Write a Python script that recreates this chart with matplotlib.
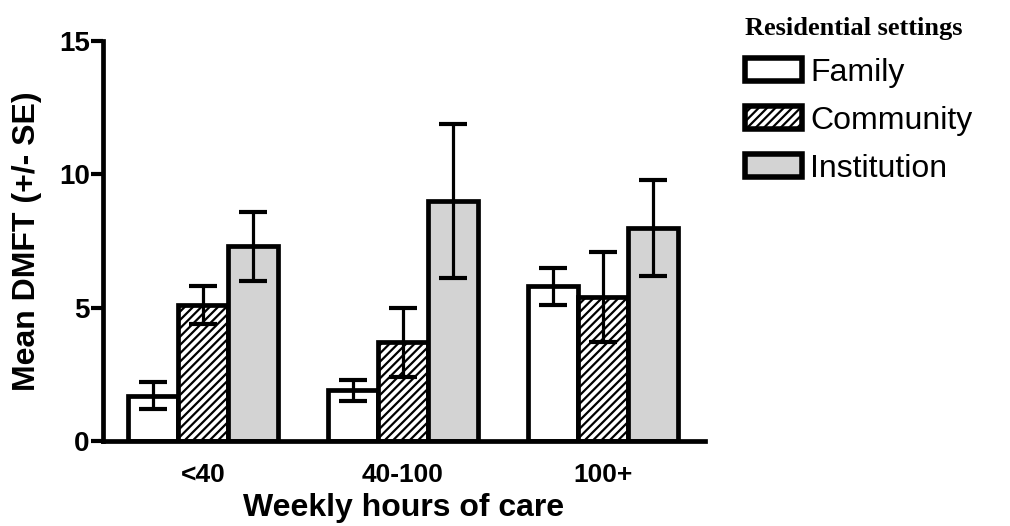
import matplotlib
matplotlib.use("Agg")
import matplotlib.pyplot as plt
import numpy as np

categories = ["<40", "40-100", "100+"]
series = ["Family", "Community", "Institution"]
family = [1.7, 1.9, 5.8]
community = [5.1, 3.7, 5.4]
institution = [7.3, 9.0, 8.0]
family_se = [0.5, 0.4, 0.7]
community_se = [0.7, 1.3, 1.7]
institution_se = [1.3, 2.9, 1.8]

plt.rcParams['font.family'] = ['Liberation Sans', 'DejaVu Sans']
plt.rcParams['hatch.linewidth'] = 1.6

fig = plt.figure(figsize=(10.10, 5.26), dpi=100)
ax = fig.add_axes([0.102, 0.1616, 0.596, 0.7605])

values = [family, community, institution]
errs = [family_se, community_se, institution_se]
fills = ["white", "white", "#d3d3d3"]
hatches = [None, "////", None]
x = np.arange(len(categories))
w = 0.25
for i, (v, e) in enumerate(zip(values, errs)):
    pos = x + (i - 1) * w
    ax.bar(pos, v, width=w, color=fills[i], edgecolor="black", linewidth=3.4,
           hatch=hatches[i], label=series[i], zorder=2)
    ax.errorbar(pos, v, yerr=e, fmt="none", ecolor="black", elinewidth=2.3,
                capsize=10, capthick=3.0, zorder=3)

ax.set_xlim(-0.5, 2.51)
ax.set_ylim(0, 15)
ax.set_yticks([0, 5, 10, 15])
ax.set_xticks(x)
ax.set_xticklabels(categories, fontsize=19, fontweight="bold")
ax.tick_params(axis="y", labelsize=20, width=3, length=9, direction="out", pad=0.5)
for lab in ax.get_yticklabels():
    lab.set_fontweight("bold")
ax.tick_params(axis="x", length=0, pad=16)
for s in ["top", "right"]:
    ax.spines[s].set_visible(False)
for s in ["left", "bottom"]:
    ax.spines[s].set_linewidth(3.4)
ax.set_xlabel("Weekly hours of care", fontsize=23, fontweight="bold", labelpad=4)
ax.set_ylabel("Mean DMFT (+/- SE)", fontsize=23, fontweight="bold", labelpad=12)

leg = fig.legend(loc="upper left", bbox_to_anchor=(0.731, 0.98), frameon=False,
                 title="Residential settings", fontsize=23, alignment="left",
                 handlelength=1.8, handleheight=0.75, handletextpad=0.25,
                 labelspacing=0.56, borderaxespad=0, borderpad=0.2)
leg.get_title().set_fontfamily("Liberation Serif")
leg.get_title().set_fontweight("bold")
leg.get_title().set_fontsize(19)
for p in leg.get_patches():
    p.set_linewidth(4)

fig.savefig("out.png", dpi=100)
